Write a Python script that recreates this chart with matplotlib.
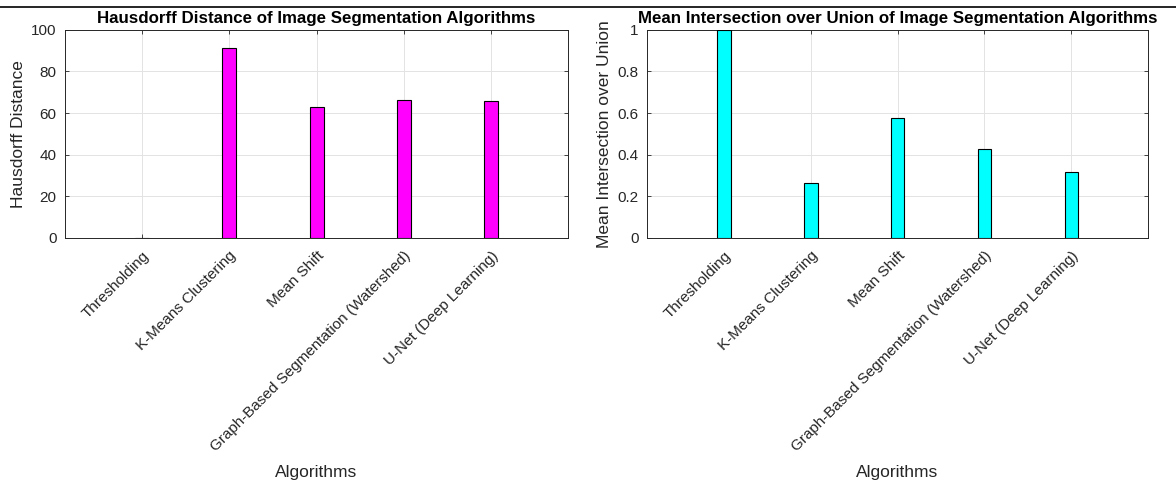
import numpy as np
import matplotlib.pyplot as plt
from matplotlib.lines import Line2D

plt.rcParams['font.family'] = ['Liberation Sans', 'DejaVu Sans']

algorithms = ["Thresholding", "K-Means Clustering", "Mean Shift",
              "Graph-Based Segmentation (Watershed)", "U-Net (Deep Learning)"]
hausdorff = [0.0, 91.4, 63.0, 66.3, 65.9]
mean_iou = [1.0, 0.261, 0.574, 0.428, 0.317]

hd_ticks = [0, 20, 40, 60, 80, 100]
iou_ticks = [0, 0.2, 0.4, 0.6, 0.8, 1.0]
iou_ticklabels = ["0", "0.2", "0.4", "0.6", "0.8", "1"]

fig = plt.figure(figsize=(11.76, 4.83), dpi=100)
ax1 = fig.add_axes([0.0553, 0.508, 0.4277, 0.430])
ax2 = fig.add_axes([0.5502, 0.508, 0.4260, 0.430])

x = np.arange(1, len(algorithms) + 1)
dark = "#262626"


def style(ax, vals, color, ticks, ticklabels, ylabel, title):
    ax.bar(x, vals, width=0.16, color=color, edgecolor="black", linewidth=0.8, zorder=3)
    ax.set_xlim(0.12, 5.88)
    ax.set_ylim(ticks[0], ticks[-1])
    ax.set_yticks(ticks)
    ax.set_yticklabels(ticklabels)
    ax.set_xticks(x)
    ax.set_xticklabels(algorithms, rotation=45, ha="right", va="top",
                       rotation_mode="anchor")
    ax.tick_params(direction="in", length=3, width=0.6, colors=dark,
                   labelsize=11, top=True, right=True)
    ax.tick_params(axis="x", pad=8)
    ax.tick_params(axis="y", pad=6)
    ax.grid(True, color="#e3e3e3", linewidth=0.7, zorder=0)
    for s in ax.spines.values():
        s.set_color(dark)
        s.set_linewidth(0.7)
    ax.set_xlabel("Algorithms", fontsize=12.5, color=dark, labelpad=8)
    ax.set_ylabel(ylabel, fontsize=12.5, color=dark, labelpad=4)
    ax.set_title(title, fontsize=12.2, fontweight="bold", color="black", pad=5)


style(ax1, hausdorff, "#ff00ff", hd_ticks, [str(t) for t in hd_ticks],
      "Hausdorff Distance", "Hausdorff Distance of Image Segmentation Algorithms")
style(ax2, mean_iou, "#00ffff", iou_ticks, iou_ticklabels,
      "Mean Intersection over Union",
      "Mean Intersection over Union of Image Segmentation Algorithms")

fig.add_artist(Line2D([0.0, 1.0], [0.985, 0.985], color="black", linewidth=1.2))

fig.savefig("out.png", dpi=100)
plt.close(fig)
